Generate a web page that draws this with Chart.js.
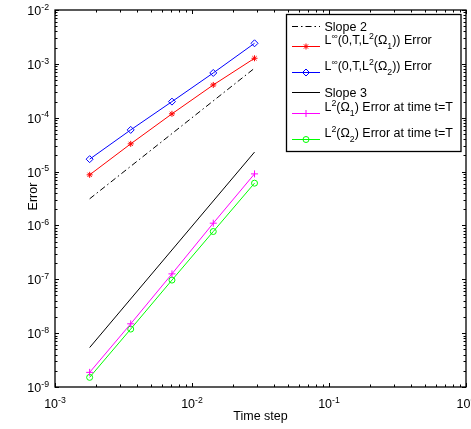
<!DOCTYPE html>
<html>
<head>
<meta charset="utf-8">
<script src="https://cdn.jsdelivr.net/npm/chart.js@4"></script>
<style>
  html, body { margin: 0; padding: 0; background: #fff; }
  canvas { display: block; }
</style>
</head>
<body>
<canvas id="errorChart" width="471" height="429"></canvas>
<script>
// time steps and errors
const timeSteps = [0.00179, 0.00357, 0.00714, 0.0143, 0.0286];
const linfOmega1 = [8.7e-6, 3.27e-5, 1.18e-4, 4.06e-4, 1.27e-3];
const linfOmega2 = [1.70e-5, 5.94e-5, 1.99e-4, 6.78e-4, 2.41e-3];
const l2Omega1 = [1.87e-9, 1.49e-8, 1.26e-7, 1.10e-6, 9.06e-6];
const l2Omega2 = [1.51e-9, 1.19e-8, 9.66e-8, 7.71e-7, 6.09e-6];

// reference slope lines
const slopeX = [0.00179, 0.0286];
const slope2 = [3.12e-6, 8.3e-4];
const slope3 = [5.4e-9, 2.3e-5];

// decade exponents for tick labels
const xExponents = [-3, -2, -1, 0];
const yExponents = [-9, -8, -7, -6, -5, -4, -3, -2];

const seriesLabels = [
    'Slope 2',
    'L^{∞}(0,T,L^{2}(Ω_{1})) Error',
    'L^{∞}(0,T,L^{2}(Ω_{2})) Error',
    'Slope 3',
    'L^{2}(Ω_{1}) Error at time t=T',
    'L^{2}(Ω_{2}) Error at time t=T'
];

const FONT = '"Liberation Sans", Arial, sans-serif';
const FS = 12.5;

const toPoints = (xs, ys) => xs.map((x, i) => ({ x: x, y: ys[i] }));

// draws text with ^{..} and _{..} parts
function drawRich(ctx, str, x, y, size, align) {
    const parts = [];
    str.replace(/\^\{([^}]*)\}|_\{([^}]*)\}|([^^_]+)/g, (m, sup, sub, txt) => {
        if (sup !== undefined) parts.push({ t: sup, s: 0.7, dy: -0.42 });
        else if (sub !== undefined) parts.push({ t: sub, s: 0.7, dy: 0.4 });
        else parts.push({ t: txt, s: 1, dy: 0 });
        return m;
    });
    let w = 0;
    parts.forEach(p => {
        ctx.font = (size * p.s) + 'px ' + FONT;
        p.w = ctx.measureText(p.t).width;
        w += p.w;
    });
    let cx = align === 'center' ? x - w / 2 : align === 'right' ? x - w : x;
    ctx.textAlign = 'left';
    ctx.textBaseline = 'alphabetic';
    parts.forEach(p => {
        ctx.font = (size * p.s) + 'px ' + FONT;
        ctx.fillText(p.t, cx, y + p.dy * size);
        cx += p.w;
    });
}

function drawMarker(ctx, style, x, y, r, color) {
    ctx.save();
    ctx.strokeStyle = color;
    ctx.lineWidth = 1;
    ctx.setLineDash([]);
    ctx.beginPath();
    if (style === 'star') {
        ctx.moveTo(x - r, y); ctx.lineTo(x + r, y);
        ctx.moveTo(x, y - r); ctx.lineTo(x, y + r);
        const d = r * 0.7;
        ctx.moveTo(x - d, y - d); ctx.lineTo(x + d, y + d);
        ctx.moveTo(x - d, y + d); ctx.lineTo(x + d, y - d);
    } else if (style === 'rectRot') {
        ctx.moveTo(x, y - r); ctx.lineTo(x + r, y);
        ctx.lineTo(x, y + r); ctx.lineTo(x - r, y); ctx.closePath();
    } else if (style === 'cross') {
        ctx.moveTo(x - r, y); ctx.lineTo(x + r, y);
        ctx.moveTo(x, y - r); ctx.lineTo(x, y + r);
    } else if (style === 'circle') {
        ctx.arc(x, y, r, 0, Math.PI * 2);
    }
    ctx.stroke();
    ctx.restore();
}

const axesPlugin = {
    id: 'matlabAxes',
    afterDraw(chart) {
        const ctx = chart.ctx;
        const a = chart.chartArea;
        const xs = chart.scales.x, ys = chart.scales.y;
        ctx.save();
        ctx.fillStyle = '#000';
        ctx.strokeStyle = '#000';

        // inward ticks on all four sides
        ctx.lineWidth = 1;
        ctx.beginPath();
        for (let d = -3; d <= 0; d++) {
            for (let m = 1; m <= 9; m++) {
                const v = m * Math.pow(10, d);
                if (v > 1.0000001) break;
                const px = Math.round(xs.getPixelForValue(v)) + 0.5;
                const len = m === 1 ? 4 : 2.5;
                ctx.moveTo(px, a.bottom); ctx.lineTo(px, a.bottom - len);
                ctx.moveTo(px, a.top); ctx.lineTo(px, a.top + len);
            }
        }
        for (let d = -9; d <= -2; d++) {
            for (let m = 1; m <= 9; m++) {
                const v = m * Math.pow(10, d);
                if (v > 1.0000001e-2) break;
                const py = Math.round(ys.getPixelForValue(v)) + 0.5;
                const len = m === 1 ? 4 : 2.5;
                ctx.moveTo(a.left, py); ctx.lineTo(a.left + len, py);
                ctx.moveTo(a.right, py); ctx.lineTo(a.right - len, py);
            }
        }
        ctx.stroke();

        // box
        ctx.lineWidth = 1.3;
        ctx.strokeRect(a.left, a.top, a.right - a.left, a.bottom - a.top);

        // tick labels
        xExponents.forEach(e => {
            const px = xs.getPixelForValue(Math.pow(10, e));
            drawRich(ctx, '10^{' + e + '}', px, a.bottom + 21, FS, 'center');
        });
        yExponents.forEach(e => {
            const py = ys.getPixelForValue(Math.pow(10, e));
            drawRich(ctx, '10^{' + e + '}', a.left - 6, py + 5, FS, 'right');
        });

        // axis titles
        ctx.font = FS + 'px ' + FONT;
        ctx.textAlign = 'center';
        ctx.textBaseline = 'alphabetic';
        ctx.fillText('Time step', (a.left + a.right) / 2, a.bottom + 33);
        ctx.save();
        ctx.translate(37, (a.top + a.bottom) / 2 - 2);
        ctx.rotate(-Math.PI / 2);
        ctx.fillText('Error', 0, 0);
        ctx.restore();

        // legend
        const bx = a.right - 179.5, by = a.top + 4.5;
        const bw = 174.5, bh = 137;
        ctx.fillStyle = '#fff';
        ctx.fillRect(bx, by, bw, bh);
        ctx.lineWidth = 1.3;
        ctx.strokeRect(bx, by, bw, bh);
        const rowY = [26, 46, 72, 92, 113, 139];
        chart.data.datasets.forEach((ds, i) => {
            const ly = rowY[i];
            const x0 = a.right - 174, x1 = a.right - 146;
            ctx.save();
            ctx.strokeStyle = ds.borderColor;
            ctx.lineWidth = 1;
            ctx.setLineDash(ds.borderDash || []);
            ctx.beginPath();
            ctx.moveTo(x0, ly + 0.5); ctx.lineTo(x1, ly + 0.5);
            ctx.stroke();
            ctx.restore();
            if (ds.pointRadius > 0) {
                drawMarker(ctx, ds.pointStyle, (x0 + x1) / 2, ly + 0.5, ds.pointRadius, ds.borderColor);
            }
            ctx.fillStyle = '#000';
            const rich = ds.label.indexOf('^') >= 0;
            drawRich(ctx, ds.label, a.right - 141.5, rich ? ly - 2 : ly + 4.5, FS, 'left');
        });
        ctx.restore();
    }
};

const ctx = document.getElementById('errorChart').getContext('2d');

const errorChart = new Chart(ctx, {
    type: 'scatter',
    data: {
        datasets: [
            {
                label: seriesLabels[0],
                data: toPoints(slopeX, slope2),
                borderColor: '#000',
                borderDash: [6, 3, 1.5, 3],
                pointRadius: 0
            },
            {
                label: seriesLabels[1],
                data: toPoints(timeSteps, linfOmega1),
                borderColor: '#ff0000',
                pointStyle: 'star',
                pointRadius: 3
            },
            {
                label: seriesLabels[2],
                data: toPoints(timeSteps, linfOmega2),
                borderColor: '#0000ff',
                pointStyle: 'rectRot',
                pointRadius: 3.5
            },
            {
                label: seriesLabels[3],
                data: toPoints(slopeX, slope3),
                borderColor: '#000',
                pointRadius: 0
            },
            {
                label: seriesLabels[4],
                data: toPoints(timeSteps, l2Omega1),
                borderColor: '#ff00ff',
                pointStyle: 'cross',
                pointRadius: 3.5
            },
            {
                label: seriesLabels[5],
                data: toPoints(timeSteps, l2Omega2),
                borderColor: '#00ff00',
                pointStyle: 'circle',
                pointRadius: 3
            }
        ].map(ds => Object.assign({
            showLine: true,
            borderWidth: 1,
            backgroundColor: 'rgba(0,0,0,0)',
            pointBackgroundColor: 'rgba(0,0,0,0)',
            pointBorderColor: ds.borderColor,
            pointBorderWidth: 1,
            pointHoverRadius: 0
        }, ds))
    },
    options: {
        responsive: false,
        animation: false,
        layout: { padding: { left: 55, right: 5, top: 10, bottom: 42 } },
        plugins: {
            legend: { display: false },
            tooltip: { enabled: false }
        },
        scales: {
            x: { type: 'logarithmic', min: 1e-3, max: 1, display: false },
            y: { type: 'logarithmic', min: 1e-9, max: 1e-2, display: false }
        }
    },
    plugins: [axesPlugin]
});
</script>
</body>
</html>
